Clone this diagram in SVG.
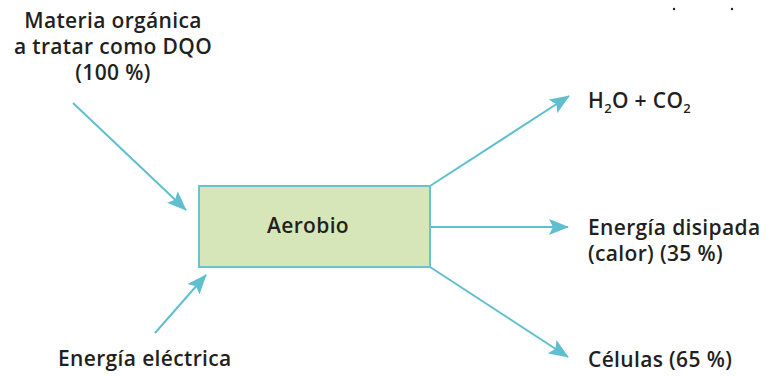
<svg xmlns="http://www.w3.org/2000/svg" width="767" height="376" viewBox="0 0 767 376">
<defs>
<style>
.t{font-family:"Open Sans","Liberation Sans",sans-serif;font-weight:600;font-size:21px;letter-spacing:0.35px;fill:#231f20}
.c{stroke:#5fbfcf;stroke-width:2;fill:none}
.sub{font-size:13px}
</style>
<marker id="a" viewBox="0 0 20 16" refX="19" refY="8" markerWidth="20" markerHeight="16" markerUnits="userSpaceOnUse" orient="auto">
<path d="M0,0 L20,8 L0,16 L4,8 z" fill="#5fbfcf"/>
</marker>
</defs>
<rect width="767" height="376" fill="#ffffff"/>
<g id="connectors">
<line class="c" x1="73" y1="103" x2="186" y2="210" marker-end="url(#a)"/>
<line class="c" x1="155" y1="333" x2="206" y2="275" marker-end="url(#a)"/>
<line class="c" x1="430" y1="186" x2="569" y2="96" marker-end="url(#a)"/>
<line class="c" x1="430" y1="227" x2="568" y2="227" marker-end="url(#a)"/>
<line class="c" x1="430" y1="267" x2="568" y2="357" marker-end="url(#a)"/>
</g>
<g id="aerobio">
<rect x="199" y="186" width="231" height="81" fill="#d6e6b9" stroke="#6cc0d0" stroke-width="2"/>
<text class="t" x="308" y="233" text-anchor="middle">Aerobio</text>
</g>
<g id="materia">
<text class="t" x="113" y="28" text-anchor="middle">Materia orgánica</text>
<text class="t" x="113" y="54" text-anchor="middle">a tratar como DQO</text>
<text class="t" x="113" y="80" text-anchor="middle">(100 %)</text>
</g>
<g id="energia-electrica">
<text class="t" x="58" y="366">Energía eléctrica</text>
</g>
<g id="h2o-co2">
<text class="t" x="588" y="108">H<tspan class="sub" dy="5">2</tspan><tspan dy="-5">O + CO</tspan><tspan class="sub" dy="5">2</tspan></text>
</g>
<g id="energia-disipada">
<text class="t" x="588" y="235">Energía disipada</text>
<text class="t" x="588" y="261">(calor) (35 %)</text>
</g>
<g id="celulas">
<text class="t" x="588" y="367">Células (65 %)</text>
</g>
<circle cx="674" cy="9" r="1.2" fill="#231f20"/>
<circle cx="732" cy="9" r="1.2" fill="#231f20"/>
</svg>
